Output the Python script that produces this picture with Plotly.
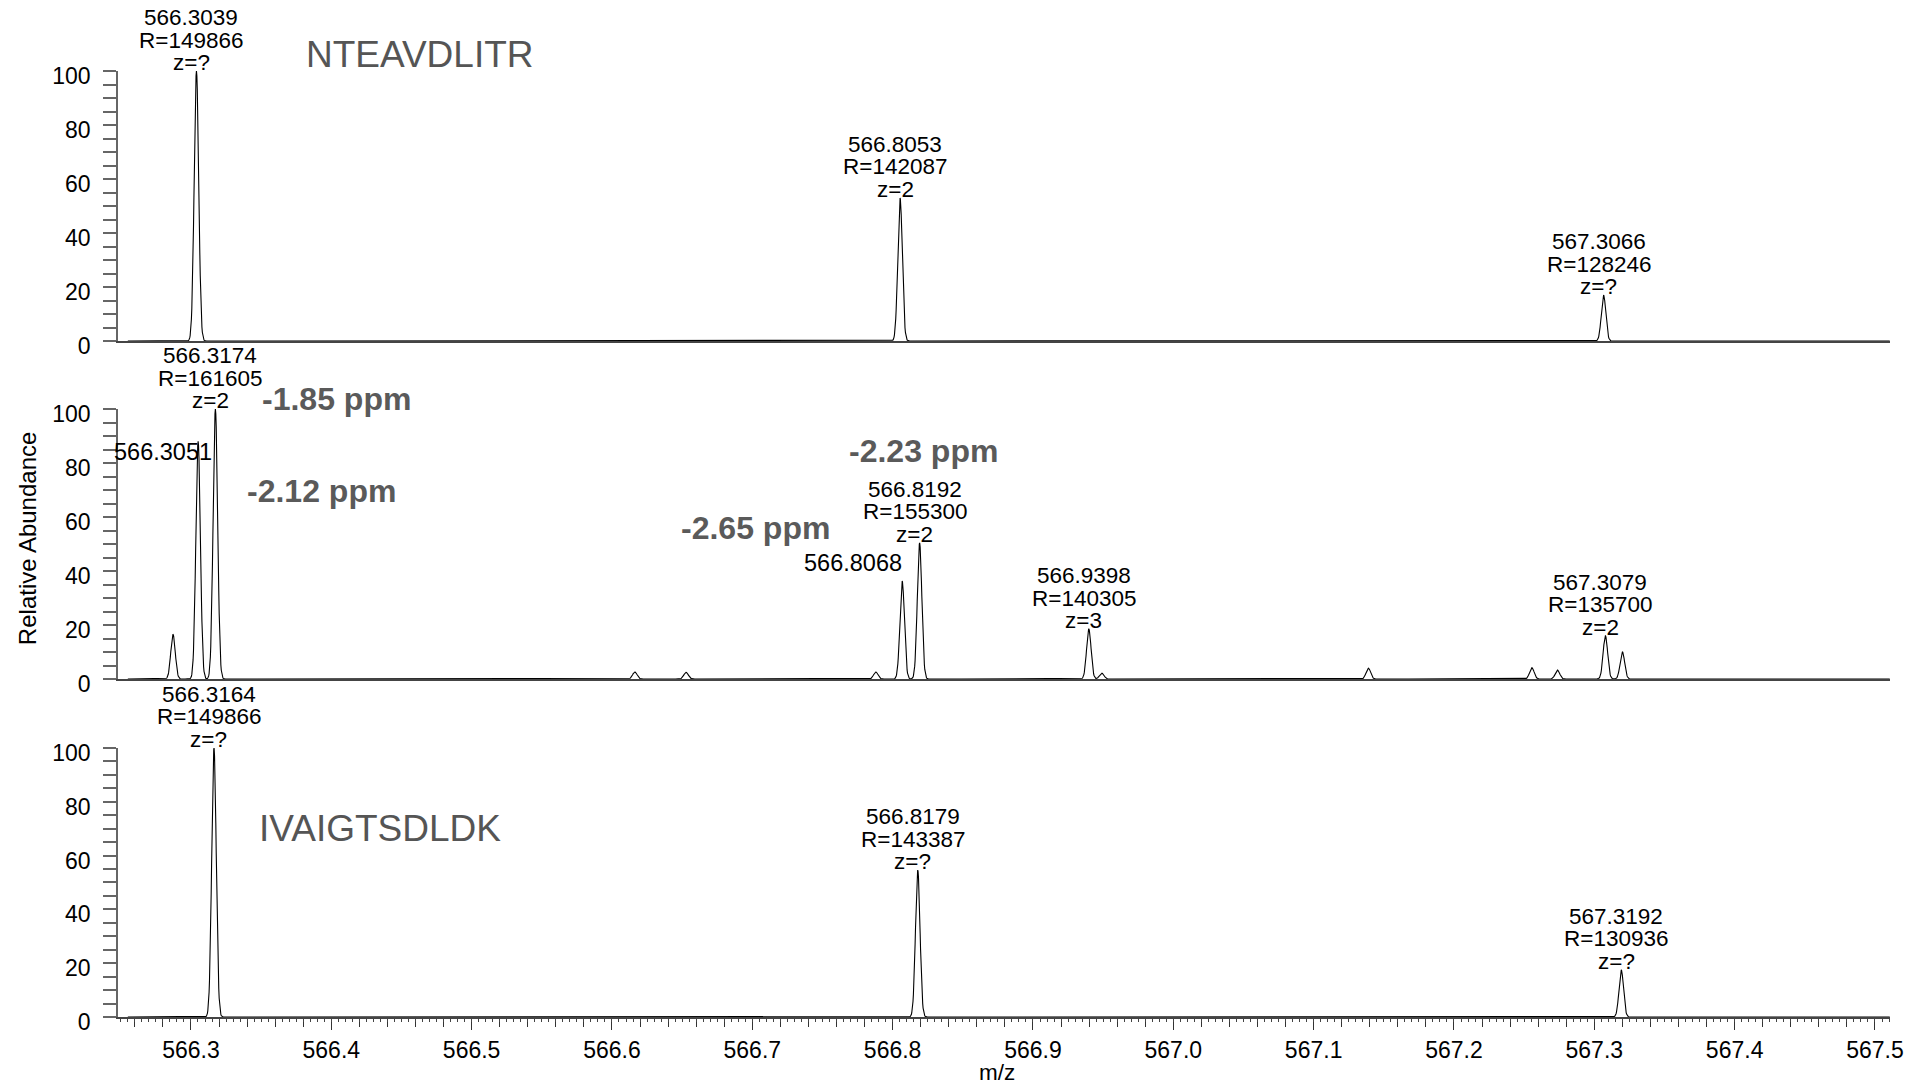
import numpy as np
import plotly.graph_objects as go

# ---------------- data ----------------
X_MIN, X_MAX = 566.2480, 567.5107
SPEC_START = 566.2550

# Panel 1 : NTEAVDLITR
mz_top = [566.3039, 566.8053, 567.3066]
int_top = [100.0, 53.0, 17.0]
lab_top = [["566.3039", "R=149866", "z=?"],
           ["566.8053", "R=142087", "z=2"],
           ["567.3066", "R=128246", "z=?"]]

# Panel 2 : mixture
mz_mid = [566.2872, 566.3051, 566.3174, 566.6163, 566.6528, 566.7880,
          566.8068, 566.8192, 566.9398, 566.9490, 567.1390, 567.2555,
          567.2737, 567.3079, 567.3200]
int_mid = [16.5, 88.0, 100.0, 2.6, 2.5, 2.6,
           36.3, 50.4, 18.5, 2.2, 4.0, 4.2,
           3.3, 16.0, 10.1]
lab_mid_mz = [566.3174, 566.8192, 566.9398, 567.3079]
lab_mid = [["566.3174", "R=161605", "z=2"],
           ["566.8192", "R=155300", "z=2"],
           ["566.9398", "R=140305", "z=3"],
           ["567.3079", "R=135700", "z=2"]]
side_lab_mz = [566.3051, 566.8068]
side_lab_text = ["566.3051", "566.8068"]
side_lab_y = [84.0, 43.0]
side_lab_shift = [16, 2]

# Panel 3 : IVAIGTSDLDK
mz_bot = [566.3164, 566.8179, 567.3192]
int_bot = [100.0, 54.6, 17.5]
lab_bot = [["566.3164", "R=149866", "z=?"],
           ["566.8179", "R=143387", "z=?"],
           ["567.3192", "R=130936", "z=?"]]

# peptide names: (x, y, xref, yref)
peptides = ["NTEAVDLITR", "IVAIGTSDLDK"]
pep_pos = [(566.4630, 1.017, "x", "paper"), (566.4345, 69.9, "x3", "y3")]

ppm_text = ["-1.85 ppm", "-2.12 ppm", "-2.23 ppm", "-2.65 ppm"]
ppm_x = [566.4039, 566.3932, 566.8217, 566.7021]
ppm_y = [0.6530, 69.6, 84.4, 55.9]
ppm_yref = ["paper", "y2", "y2", "y2"]

RESOLUTION = 150000
FONT = "Liberation Sans, Arial, sans-serif"


def profile(mz, inten):
    grid = np.union1d(np.arange(SPEC_START, X_MAX, 0.0003), np.array(mz))
    y = np.zeros_like(grid)
    for m, h in zip(mz, inten):
        s = m / RESOLUTION / 2.3548
        y += h * np.exp(-0.5 * ((grid - m) / s) ** 2)
    return grid, y


fig = go.Figure()
for i, (mz, it) in enumerate([(mz_top, int_top), (mz_mid, int_mid), (mz_bot, int_bot)]):
    gx, gy = profile(mz, it)
    fig.add_trace(go.Scatter(x=gx, y=gy, mode="lines",
                             line=dict(color="black", width=1.1),
                             xaxis="x" if i == 0 else f"x{i+1}",
                             yaxis="y" if i == 0 else f"y{i+1}",
                             hoverinfo="skip"))
# invisible carrier trace for the fine-tick overlay axis
fig.add_trace(go.Scatter(x=[X_MIN, X_MAX], y=[0, 0], mode="lines",
                         line=dict(width=0), xaxis="x4", yaxis="y3",
                         hoverinfo="skip", showlegend=False))

annotations = []


def ref(row):
    return ("x" if row == 1 else f"x{row}", "y" if row == 1 else f"y{row}")


def peak_label(lines, m, h, row):
    xr, yr = ref(row)
    for k, t in enumerate(reversed(lines)):
        annotations.append(dict(x=m, y=h, xref=xr, yref=yr, text=t, showarrow=False,
                                xanchor="center", yanchor="bottom",
                                xshift=-5, yshift=-6 + k * 22.5,
                                font=dict(family=FONT, size=22.5, color="black")))


for lines, m, h in zip(lab_top, mz_top, int_top):
    peak_label(lines, m, h, 1)
for lines, m in zip(lab_mid, lab_mid_mz):
    peak_label(lines, m, int_mid[mz_mid.index(m)], 2)
for lines, m, h in zip(lab_bot, mz_bot, int_bot):
    peak_label(lines, m, h, 3)

for m, t, yv, sh in zip(side_lab_mz, side_lab_text, side_lab_y, side_lab_shift):
    xr, yr = ref(2)
    annotations.append(dict(x=m, y=yv, xref=xr, yref=yr, text=t, showarrow=False,
                            xanchor="right", yanchor="middle", xshift=sh,
                            font=dict(family=FONT, size=23.5, color="black")))

for t, (xv, yv, xr, yr) in zip(peptides, pep_pos):
    annotations.append(dict(x=xv, y=yv, xref=xr, yref=yr, text=t, showarrow=False,
                            xanchor="center", yanchor="middle",
                            font=dict(family=FONT, size=37, color="#555555")))

for t, xv, yv, yr in zip(ppm_text, ppm_x, ppm_y, ppm_yref):
    annotations.append(dict(x=xv, y=yv, xref="x2", yref=yr, text="<b>" + t + "</b>",
                            showarrow=False, xanchor="center", yanchor="middle",
                            font=dict(family=FONT, size=32, color="#5a5a5a")))

annotations.append(dict(x=-0.0513, y=0.5063, xref="paper", yref="paper",
                        text="Relative Abundance", textangle=-90, showarrow=False,
                        xanchor="center", yanchor="middle",
                        font=dict(family=FONT, size=24, color="black")))
annotations.append(dict(x=0.4961, y=-0.059, xref="paper", yref="paper",
                        text="m/z", showarrow=False, xanchor="center", yanchor="middle",
                        font=dict(family=FONT, size=22.5, color="black")))

domains = [[0.71459, 1.0], [0.35729, 0.64270], [0.0, 0.28436]]
layout = dict(width=1916, height=1087, margin=dict(l=118, r=24, t=71, b=70),
              paper_bgcolor="white", plot_bgcolor="white", showlegend=False,
              annotations=annotations, font=dict(family=FONT))

for i in range(3):
    xn = "xaxis" if i == 0 else f"xaxis{i+1}"
    yn = "yaxis" if i == 0 else f"yaxis{i+1}"
    ya = "y" if i == 0 else f"y{i+1}"
    xa = "x" if i == 0 else f"x{i+1}"
    xd = dict(domain=[0, 1], range=[X_MIN, X_MAX], anchor=ya, showgrid=False,
              zeroline=False, showline=True, linecolor="#444444", linewidth=2)
    if i < 2:
        xd.update(showticklabels=False, ticks="", matches="x3")
    else:
        xd.update(ticks="outside", ticklen=11, tickwidth=1.3, tickcolor="#333333",
                  tick0=566.3, dtick=0.1, tickformat=".1f",
                  tickfont=dict(family=FONT, size=23, color="black"),
                  minor=dict(ticks="outside", dtick=0.02, tick0=566.3, ticklen=7.5,
                             tickwidth=1.2, tickcolor="#333333"))
    layout[xn] = xd
    layout[yn] = dict(domain=domains[i], range=[0, 100], anchor=xa, showgrid=False,
                      zeroline=False, showline=True, linecolor="#666666", linewidth=1.5,
                      ticks="outside", ticklen=13, tickwidth=1.5, tickcolor="#666666",
                      tick0=0, dtick=20, ticklabelstandoff=8, ticklabelshift=5,
                      tickfont=dict(family=FONT, size=23, color="black"),
                      minor=dict(ticks="outside", dtick=5, tick0=0, ticklen=13,
                                 tickwidth=1.5, tickcolor="#666666"))

# fine ticks (every 0.005) on an overlay axis sharing the bottom panel
layout["xaxis4"] = dict(overlaying="x3", anchor="y3", side="bottom",
                        range=[X_MIN, X_MAX], showgrid=False, zeroline=False,
                        showline=False, showticklabels=False, ticks="outside",
                        tick0=566.3, dtick=0.005, ticklen=4, tickwidth=1,
                        tickcolor="#444444")

fig.update_layout(**layout)
fig.write_html("out.html")
